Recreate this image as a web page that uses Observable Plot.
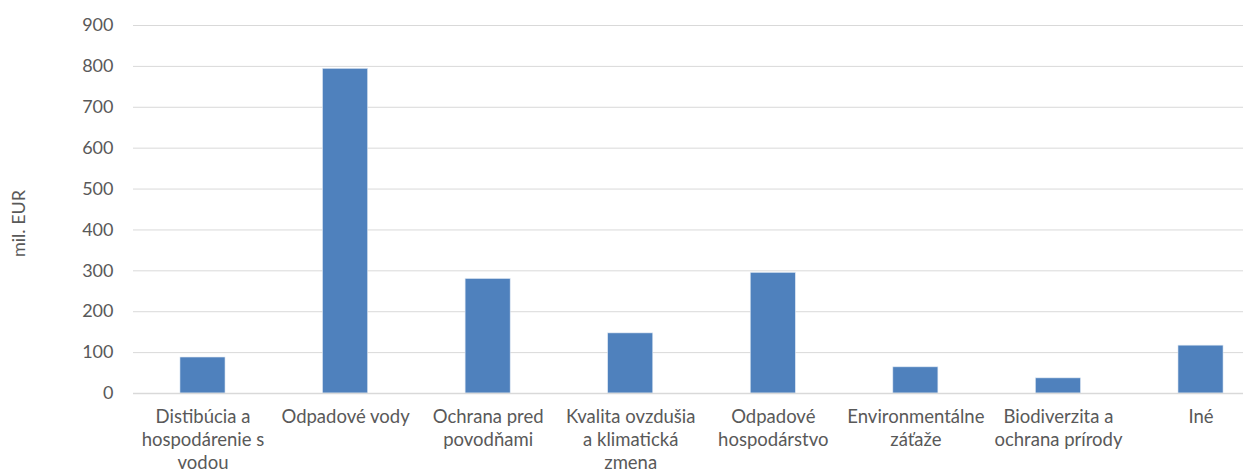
<!DOCTYPE html>
<html>
<head>
<meta charset="utf-8">
<script src="https://cdn.jsdelivr.net/npm/d3@7"></script>
<script src="https://cdn.jsdelivr.net/npm/@observablehq/plot@0.6"></script>
<style>
  html, body { margin: 0; padding: 0; background: #fff; }
  #chart svg { display: block; }
</style>
</head>
<body>
<div id="chart"></div>
<script>
const categories = [
  "Distibúcia a hospodárenie s vodou",
  "Odpadové vody",
  "Ochrana pred povodňami",
  "Kvalita ovzdušia a klimatická zmena",
  "Odpadové hospodárstvo",
  "Environmentálne záťaže",
  "Biodiverzita a ochrana prírody",
  "Iné"
];
const tickLabels = [
  "Distibúcia a\nhospodárenie s\nvodou",
  "Odpadové vody",
  "Ochrana pred\npovodňami",
  "Kvalita ovzdušia\na klimatická\nzmena",
  "Odpadové\nhospodárstvo",
  "Environmentálne\nzáťaže",
  "Biodiverzita a\nochrana prírody",
  "Iné"
];
const values = [88, 794, 280, 147, 295, 64, 37, 117];
const yTicks = [0, 100, 200, 300, 400, 500, 600, 700, 800, 900];
const yLabel = "mil. EUR";

const data = categories.map((c, i) => ({category: c, value: values[i]}));
const labelOf = new Map(categories.map((c, i) => [c, tickLabels[i]]));

const chart = Plot.plot({
  width: 1245,
  height: 475,
  marginLeft: 133,
  marginRight: 2,
  marginTop: 25,
  marginBottom: 82,
  style: {fontFamily: "Lato, 'Noto Sans', sans-serif", fontSize: "18.5px", color: "#595959", background: "#fff", overflow: "hidden"},
  x: {domain: categories, range: [131.2, 1271.8], round: false, paddingInner: 0.684, paddingOuter: 0.342, label: null},
  y: {domain: [0, 900], label: null},
  marks: [
    Plot.gridY(yTicks, {stroke: "#d9d9d9", strokeOpacity: 1, strokeWidth: 1}),
    Plot.barY(data, {x: "category", y: "value", fill: "#4f81bd", stroke: "#dce6f2", strokeWidth: 0.6}),
    Plot.ruleY([0], {stroke: "#d9d9d9", strokeWidth: 1.5}),
    Plot.axisY(yTicks, {tickSize: 0, tickPadding: 20, fill: "#595959", fontSize: 18, label: null}),
    Plot.axisX({tickSize: 0, tickPadding: 13, fill: "#595959", fontSize: 18.5, lineHeight: 1.25, tickFormat: d => labelOf.get(d), label: null}),
    Plot.text([yLabel], {frameAnchor: "left", textAnchor: "middle", dx: -114, dy: 14, rotate: -90, fill: "#595959", fontSize: 18, text: d => d})
  ]
});
document.getElementById("chart").appendChild(chart);
</script>
</body>
</html>
